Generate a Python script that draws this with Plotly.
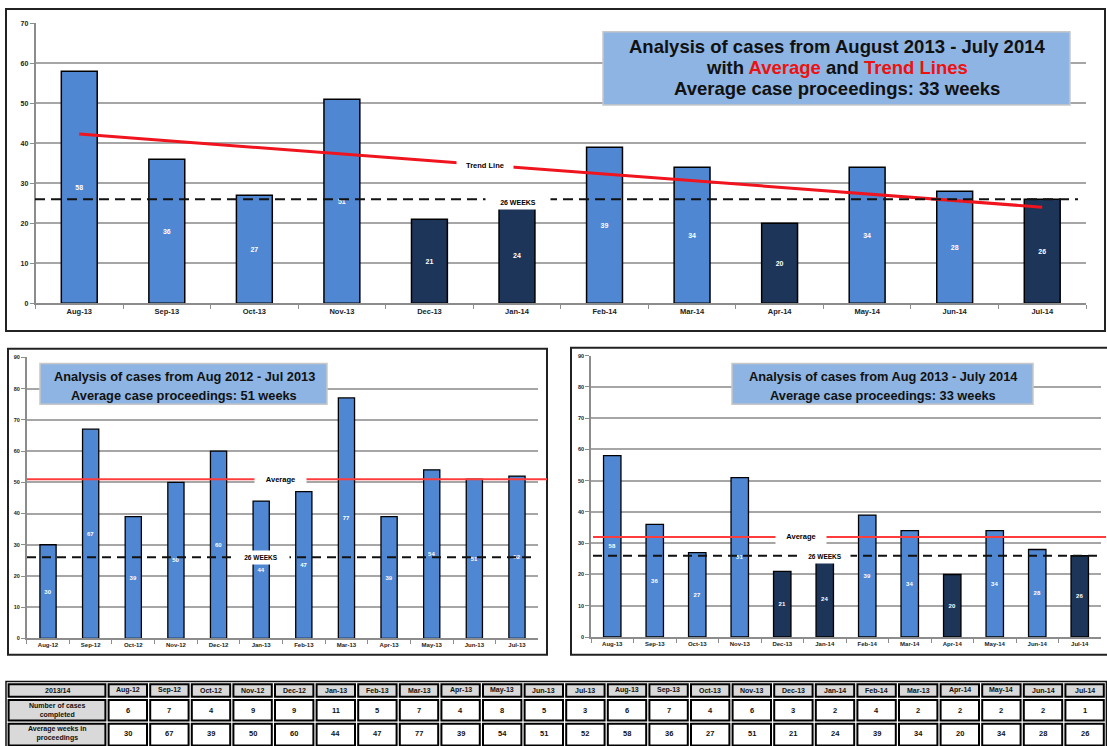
import plotly.graph_objects as go

W, H = 1107, 746

# ---------------- data ----------------
months_1213 = ["Aug-12", "Sep-12", "Oct-12", "Nov-12", "Dec-12", "Jan-13",
               "Feb-13", "Mar-13", "Apr-13", "May-13", "Jun-13", "Jul-13"]
weeks_1213 = [30, 67, 39, 50, 60, 44, 47, 77, 39, 54, 51, 52]
cases_1213 = [6, 7, 4, 9, 9, 11, 5, 7, 4, 8, 5, 3]

months_1314 = ["Aug-13", "Sep-13", "Oct-13", "Nov-13", "Dec-13", "Jan-14",
               "Feb-14", "Mar-14", "Apr-14", "May-14", "Jun-14", "Jul-14"]
weeks_1314 = [58, 36, 27, 51, 21, 24, 39, 34, 20, 34, 28, 26]
cases_1314 = [6, 7, 4, 6, 3, 2, 4, 2, 2, 2, 2, 1]
dark_months = ["Dec-13", "Jan-14", "Apr-14", "Jul-14"]

# table header as printed in the source (including its "Mar-13" label)
table_months_1314 = ["Aug-13", "Sep-13", "Oct-13", "Nov-13", "Dec-13", "Jan-14",
                     "Feb-14", "Mar-13", "Apr-14", "May-14", "Jun-14", "Jul-14"]
table_corner = "2013/14"
table_row_labels = ["Number of cases<br>completed", "Average weeks in<br>proceedings"]

target_weeks = 26
avg_1213 = 51
avg_1314 = 32
trend_start, trend_end = 42.3, 24.0

# ---------------- style ----------------
FONT = "Liberation Sans, Arial, sans-serif"
LIGHT = "#4f87d3"
DARK = "#1d3558"
GRID = "#a6a6a6"
RED = "#f0141e"
RED2 = "#ff3c3c"
BOXFILL = "#8db4e2"
CELLGRAY = "#d9d9d9"


def px(p):
    return p / W


def py(p):
    return 1 - p / H


colors_1314 = [DARK if m in dark_months else LIGHT for m in months_1314]
colors_1213 = [LIGHT for _ in months_1213]

fig = go.Figure()

# top chart
fig.add_trace(go.Bar(
    x=months_1314, y=weeks_1314, width=0.41,
    marker=dict(color=colors_1314, line=dict(color="black", width=1.5)),
    text=[str(v) for v in weeks_1314], textposition="inside",
    insidetextanchor="middle", textangle=0,
    textfont=dict(family=FONT, size=7, color="white", weight="bold"),
    xaxis="x", yaxis="y", hoverinfo="skip"))
fig.add_trace(go.Scatter(
    x=[months_1314[0], months_1314[-1]], y=[trend_start, trend_end],
    mode="lines", line=dict(color=RED, width=3),
    xaxis="x", yaxis="y", hoverinfo="skip"))

# bottom-left chart
fig.add_trace(go.Bar(
    x=months_1213, y=weeks_1213, width=0.38,
    marker=dict(color=colors_1213, line=dict(color="black", width=1.3)),
    text=[str(v) for v in weeks_1213], textposition="inside",
    insidetextanchor="middle", textangle=0,
    textfont=dict(family=FONT, size=6, color="white", weight="bold"),
    xaxis="x2", yaxis="y2", hoverinfo="skip"))

# bottom-right chart
fig.add_trace(go.Bar(
    x=months_1314, y=weeks_1314, width=0.41,
    marker=dict(color=colors_1314, line=dict(color="black", width=1.3)),
    text=[str(v) for v in weeks_1314], textposition="inside",
    insidetextanchor="middle", textangle=0,
    textfont=dict(family=FONT, size=6, color="white", weight="bold"),
    xaxis="x3", yaxis="y3", hoverinfo="skip"))


def xax(domain, tsize):
    return dict(domain=domain, type="category", range=[-0.5, 11.5],
                showline=True, linecolor="#8c8c8c", linewidth=1.5,
                ticks="outside", tickson="boundaries", ticklen=4, tickcolor="#8c8c8c",
                tickfont=dict(family=FONT, size=tsize, color="#222", weight="bold"),
                showgrid=False, fixedrange=True)


def yax(domain, rng, tsize, anchor):
    return dict(domain=domain, range=rng, dtick=10, tick0=0,
                showline=True, linecolor="#8c8c8c", linewidth=1.5,
                ticks="outside", ticklen=4, tickcolor="#8c8c8c",
                showgrid=True, gridcolor=GRID, gridwidth=1.5, zeroline=False,
                tickfont=dict(family=FONT, size=tsize, color="#222", weight="bold"),
                anchor=anchor, fixedrange=True)


shapes = []
annotations = []

# outer boxes
for (x0, y0, x1, y1) in [(6, 5, 1105, 330), (8, 348, 547, 657), (571, 347, 1112, 657)]:
    shapes.append(dict(type="rect", xref="paper", yref="paper",
                       x0=px(x0), x1=px(x1), y0=py(y1), y1=py(y0),
                       line=dict(color="#222", width=2), fillcolor="rgba(0,0,0,0)", layer="above"))
# title boxes
for (x0, y0, x1, y1) in [(603, 28, 1070, 102), (40, 363, 327, 404), (732, 363, 1033, 404)]:
    shapes.append(dict(type="rect", xref="paper", yref="paper",
                       x0=px(x0), x1=px(x1), y0=py(y1), y1=py(y0),
                       line=dict(color="#c8c8c8", width=1.5), fillcolor=BOXFILL, layer="above"))
# reference lines
shapes.append(dict(type="line", xref="paper", yref="y", x0=px(35), x1=px(1078),
                   y0=target_weeks, y1=target_weeks,
                   line=dict(color="#111", width=2, dash="10px,6px"), layer="above"))
shapes.append(dict(type="line", xref="paper", yref="y2", x0=px(27), x1=px(547),
                   y0=avg_1213, y1=avg_1213, line=dict(color=RED2, width=2), layer="above"))
shapes.append(dict(type="line", xref="paper", yref="y2", x0=px(27), x1=px(532),
                   y0=target_weeks, y1=target_weeks,
                   line=dict(color="#111", width=1.8, dash="9px,6px"), layer="above"))
shapes.append(dict(type="line", xref="paper", yref="y3", x0=px(593), x1=px(1106),
                   y0=avg_1314, y1=avg_1314, line=dict(color=RED2, width=2), layer="above"))
shapes.append(dict(type="line", xref="paper", yref="y3", x0=px(593), x1=px(1099),
                   y0=target_weeks, y1=target_weeks,
                   line=dict(color="#111", width=1.8, dash="9px,6px"), layer="above"))


def label(text, cx, cy, size, w, bg="white", pad=2, h=None):
    d = dict(text=text, xref="paper", yref="paper", x=px(cx), y=py(cy),
             xanchor="center", yanchor="middle", showarrow=False,
             font=dict(family=FONT, size=size, color="black"),
             bgcolor=bg, borderpad=pad, width=w)
    if h:
        d["height"] = h
    annotations.append(d)


label("<b>Trend Line</b>", 485, 163, 7.5, 50, pad=3)
label("<b>26 WEEKS</b>", 518, 200, 7, 60, pad=2, h=9)
label("<b>Average</b>", 280, 480, 7.5, 45, pad=3)
label("<b>26 WEEKS</b>", 261, 559, 6.5, 52, pad=2, h=9)
label("<b>Average</b>", 801, 538, 7.5, 44, pad=3)
label("<b>26 WEEKS</b>", 825, 558, 6.5, 46, pad=2, h=9)


def title(text, cx, cy, size):
    annotations.append(dict(text=text, xref="paper", yref="paper", x=px(cx), y=py(cy),
                            xanchor="center", yanchor="middle", showarrow=False,
                            font=dict(family=FONT, size=size, color="#111")))


title("<b>Analysis of cases from August 2013 - July 2014</b>", 837, 43, 18.5)
title("<b>with <span style='color:#ee1111'>Average</span> and "
      "<span style='color:#ee1111'>Trend Lines</span></b>", 837, 64, 18.5)
title("<b>Average case proceedings: 33 weeks</b>", 837, 85, 18.5)
title("<b>Analysis of cases from Aug 2012 - Jul 2013</b>", 184, 376, 12.8)
title("<b>Average case proceedings: 51 weeks</b>", 184, 395, 12.8)
title("<b>Analysis of cases from Aug 2013 - July 2014</b>", 883, 376, 12.8)
title("<b>Average case proceedings: 33 weeks</b>", 883, 395, 12.8)

# ---------------- table (cells drawn as paper-space boxes) ----------------
header_row = [table_corner] + months_1213 + table_months_1314
row_cases = [table_row_labels[0]] + [str(v) for v in cases_1213 + cases_1314]
row_weeks = [table_row_labels[1]] + [str(v) for v in weeks_1213 + weeks_1314]
table_rows = [header_row, row_cases, row_weeks]

col_edges = [7, 107] + [107 + 41.6 * k for k in range(1, 25)]
row_edges = [685, 701, 725, 750]
shapes.append(dict(type="rect", xref="paper", yref="paper",
                   x0=px(col_edges[0] - 1), x1=px(col_edges[-1] + 1),
                   y0=py(row_edges[-1]), y1=py(row_edges[0] - 1),
                   line=dict(color="#111", width=1.5), fillcolor="white", layer="below"))
for r, row in enumerate(table_rows):
    for c, txt in enumerate(row):
        x0, x1 = col_edges[c], col_edges[c + 1]
        y0, y1 = row_edges[r], row_edges[r + 1]
        fill = CELLGRAY if (r == 0 or c == 0) else "white"
        shapes.append(dict(type="rect", xref="paper", yref="paper",
                           x0=px(x0 + 1.6), x1=px(x1 - 1.6),
                           y0=py(y1 - 1.6), y1=py(y0 + 1.6),
                           line=dict(color="black", width=2), fillcolor=fill, layer="above"))
        cy = (y0 + y1) / 2 if r < 2 else y0 + 11
        size = 7 if (r == 0 or c == 0) else 7.5
        annotations.append(dict(text="<b>%s</b>" % txt, xref="paper", yref="paper",
                                x=px((x0 + x1) / 2), y=py(cy),
                                xanchor="center", yanchor="middle", showarrow=False,
                                font=dict(family=FONT, size=size, color="#111")))

fig.update_layout(
    width=W, height=H, margin=dict(l=0, r=0, t=0, b=0),
    paper_bgcolor="white", plot_bgcolor="white", showlegend=False,
    font=dict(family=FONT),
    bargap=0.5,
    xaxis=xax([px(35.5), px(1086)], 7.5),
    yaxis=yax([py(302), py(19.5)], [0, 70], 7, "x"),
    xaxis2=xax([px(26.7), px(538.3)], 6),
    yaxis2=yax([py(640.5), py(356.7)], [0, 90], 5.5, "x2"),
    xaxis3=xax([px(591), px(1101)], 6),
    yaxis3=yax([py(639), py(355)], [0, 90], 5.5, "x3"),
    shapes=shapes, annotations=annotations,
)
fig.layout.xaxis.anchor = "y"
fig.layout.xaxis2.anchor = "y2"
fig.layout.xaxis3.anchor = "y3"

fig.write_html("out.html")
